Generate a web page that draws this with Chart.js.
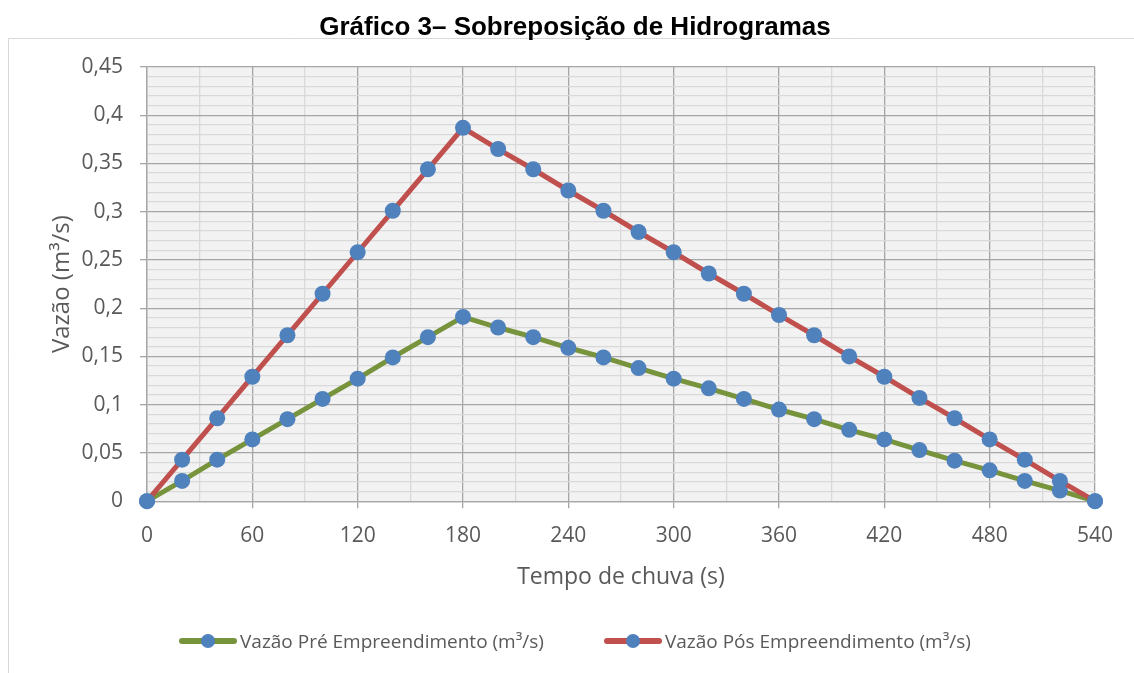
<!DOCTYPE html>
<html>
<head>
<meta charset="utf-8">
<script src="https://cdn.jsdelivr.net/npm/chart.js@4.4.1/dist/chart.umd.min.js"></script>
<style>
  html, body { margin: 0; padding: 0; background: #fff; }
  #wrap { position: relative; width: 1134px; height: 673px; }
  #title {
    position: absolute; left: 0; top: 11px; width: 1150px; text-align: center;
    font: bold 26px "Liberation Sans", Arial, sans-serif; color: #000; line-height: 30px;
  }
  #legenda {
    position: absolute; left: 179px; top: 627px; height: 28px;
    display: flex; align-items: center;
    font: 19px "Open Sans", sans-serif; color: #595959; white-space: nowrap;
  }
  #legenda .item { display: flex; align-items: center; margin-right: 60px; }
  #legenda canvas { margin-right: 3px; }
</style>
</head>
<body>
<div id="wrap">
  <div id="title">Gráfico 3– Sobreposição de Hidrogramas</div>
  <canvas id="hidrograma" width="1134" height="673"></canvas>
  <div id="legenda"></div>
</div>
<script>
// tempo de chuva (s)
const tempo = [0, 20, 40, 60, 80, 100, 120, 140, 160, 180, 200, 220, 240, 260,
  280, 300, 320, 340, 360, 380, 400, 420, 440, 460, 480, 500, 520, 540];
// vazões (m³/s)
const vazaoPre = [0, 0.021, 0.043, 0.064, 0.085, 0.106, 0.127, 0.149, 0.170, 0.191,
  0.180, 0.170, 0.159, 0.149, 0.138, 0.127, 0.117, 0.106, 0.095, 0.085, 0.074,
  0.064, 0.053, 0.042, 0.032, 0.021, 0.011, 0];
const vazaoPos = [0, 0.043, 0.086, 0.129, 0.172, 0.215, 0.258, 0.301, 0.344, 0.387,
  0.365, 0.344, 0.322, 0.301, 0.279, 0.258, 0.236, 0.215, 0.193, 0.172, 0.150,
  0.129, 0.107, 0.086, 0.064, 0.043, 0.021, 0];
const xTicks = [0, 60, 120, 180, 240, 300, 360, 420, 480, 540];

const FONT = "'Open Sans', 'Liberation Sans', sans-serif";
const TXT = "#595959";
const MAJOR = "#a6a6a6";
const MINOR = "#d9d9d9";
const MARKER = "#4f81bd";

// legend symbol: line with a marker in the middle
function legendIcon(color) {
  const c = document.createElement("canvas");
  c.width = 58;
  c.height = 16;
  const g = c.getContext("2d");
  g.strokeStyle = color;
  g.lineWidth = 6;
  g.lineCap = "round";
  g.beginPath();
  g.moveTo(3, 8);
  g.lineTo(55, 8);
  g.stroke();
  g.fillStyle = MARKER;
  g.beginPath();
  g.arc(29, 8, 7, 0, Math.PI * 2);
  g.fill();
  return c;
}

const isMajorY = (v) => Math.round(v * 100) % 5 === 0;
const isMajorX = (v) => Math.round(v) % 60 === 0;

const plotBackground = {
  id: "plotBackground",
  beforeDraw(chart) {
    const { ctx, chartArea: a } = chart;
    ctx.save();
    // outer frame
    ctx.strokeStyle = MINOR;
    ctx.lineWidth = 1;
    ctx.beginPath();
    ctx.moveTo(8.5, 673);
    ctx.lineTo(8.5, 38.5);
    ctx.lineTo(1134, 38.5);
    ctx.stroke();
    ctx.fillStyle = "#f2f2f2";
    ctx.fillRect(a.left, a.top, a.right - a.left, a.bottom - a.top);
    ctx.restore();
  },
};

const serie = (label, values, color) => ({
  label,
  data: tempo.map((t, i) => ({ x: t, y: values[i] })),
  borderColor: color,
  borderWidth: 5,
  pointRadius: 8,
  pointBorderWidth: 0,
  pointBackgroundColor: MARKER,
  pointStyle: "circle",
  clip: false,
});

const pre = serie("Vazão Pré Empreendimento (m³/s)", vazaoPre, "#77933c");
const pos = serie("Vazão Pós Empreendimento (m³/s)", vazaoPos, "#c0504d");
pre.order = 1;
pos.order = 0;

const chart = new Chart(document.getElementById("hidrograma"), {
  type: "line",
  data: { datasets: [pre, pos] },
  options: {
    responsive: false,
    animation: false,
    layout: { padding: { left: 8, top: 67, right: 39, bottom: 66 } },
    plugins: {
      title: { display: false },
      tooltip: { enabled: false },
      legend: { display: false },
    },
    scales: {
      x: {
        type: "linear",
        min: 0,
        max: 540,
        afterBuildTicks(scale) {
          const t = [];
          for (let v = 0; v <= 540; v += 30) t.push({ value: v });
          scale.ticks = t;
        },
        ticks: {
          autoSkip: false,
          maxRotation: 0,
          padding: 15,
          font: { family: FONT, size: 21 },
          color: TXT,
          callback: (v) => (isMajorX(v) && xTicks.includes(v) ? String(v) : ""),
        },
        grid: {
          color: (c) => (isMajorX(c.tick.value) ? MAJOR : MINOR),
          tickColor: (c) => (isMajorX(c.tick.value) ? MAJOR : "rgba(0,0,0,0)"),
          tickLength: 7,
          lineWidth: 1.3,
        },
        border: { color: MAJOR, width: 1.3 },
        title: {
          display: true,
          text: "Tempo de chuva (s)",
          font: { family: FONT, size: 23 },
          color: TXT,
          padding: { top: 0, bottom: 16 },
        },
      },
      y: {
        min: 0,
        max: 0.45,
        afterBuildTicks(scale) {
          const t = [];
          for (let k = 0; k <= 45; k++) t.push({ value: k / 100 });
          scale.ticks = t;
        },
        afterFit(scale) {
          scale.width = 139;
        },
        ticks: {
          autoSkip: false,
          padding: 17,
          font: { family: FONT, size: 21 },
          color: TXT,
          callback: (v) => (isMajorY(v) ? String(Math.round(v * 100) / 100).replace(".", ",") : ""),
        },
        grid: {
          color: (c) => (isMajorY(c.tick.value) ? MAJOR : MINOR),
          tickColor: (c) => (isMajorY(c.tick.value) ? MAJOR : "rgba(0,0,0,0)"),
          tickLength: 7,
          lineWidth: 1.3,
        },
        border: { color: MAJOR, width: 1.3 },
        title: {
          display: true,
          text: "Vazão (m³/s)",
          font: { family: FONT, size: 24 },
          color: TXT,
          padding: { top: 40, bottom: 0 },
        },
      },
    },
  },
  plugins: [plotBackground],
});

// legend built from the chart's datasets
const legenda = document.getElementById("legenda");
chart.data.datasets.forEach((ds) => {
  const item = document.createElement("div");
  item.className = "item";
  item.appendChild(legendIcon(ds.borderColor));
  const txt = document.createElement("span");
  txt.textContent = ds.label;
  item.appendChild(txt);
  legenda.appendChild(item);
});
</script>
</body>
</html>
